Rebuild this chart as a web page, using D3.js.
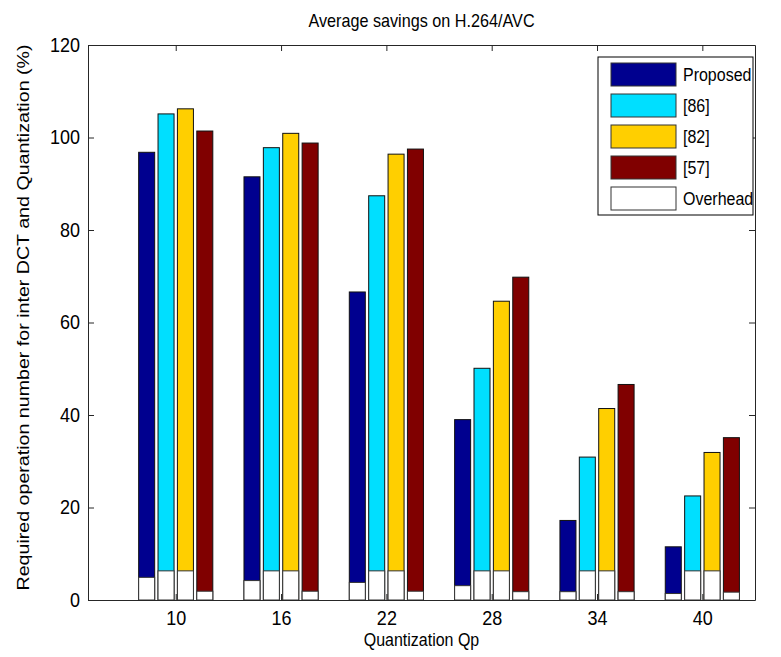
<!DOCTYPE html>
<html>
<head>
<meta charset="utf-8">
<script src="https://cdn.jsdelivr.net/npm/d3@7"></script>
<style>
  body { margin: 0; background: #fff; }
  text { font-family: 'Liberation Sans', Arial, sans-serif; fill: #000; }
</style>
</head>
<body>
<div id="chart"></div>
<script>
// values
const qp = [10, 16, 22, 28, 34, 40]
const seriesNames = ['Proposed', '[86]', '[82]', '[57]']
const proposed = [96.8, 91.5, 66.6, 39.0, 17.2, 11.5]
const ref86 = [105.1, 97.8, 87.4, 50.1, 30.9, 22.5]
const ref82 = [106.2, 100.9, 96.4, 64.6, 41.4, 31.9]
const ref57 = [101.4, 98.8, 97.5, 69.8, 46.6, 35.1]
const overheadProposed = [4.9, 4.2, 3.8, 3.1, 1.8, 1.4]
const overhead86 = [6.3, 6.3, 6.3, 6.3, 6.3, 6.3]
const overhead82 = [6.3, 6.3, 6.3, 6.3, 6.3, 6.3]
const overhead57 = [1.9, 1.9, 1.9, 1.8, 1.8, 1.7]
const yTicks = [0, 20, 40, 60, 80, 100, 120]

const colors = ['#00008f', '#00dfff', '#ffcf00', '#800000']
const values = [proposed, ref86, ref82, ref57]
const overheads = [overheadProposed, overhead86, overhead82, overhead57]

const W = 781
const H = 657
const plot = { left: 88, right: 755, top: 45, bottom: 600 }
// the picture looks stretched a bit in height, so text gets it too
const stretch = 1.12

const svg = d3
  .select('#chart')
  .append('svg')
  .attr('width', W)
  .attr('height', H)

const x = d3
  .scaleLinear()
  .domain([0.167, 6.5])
  .range([plot.left, plot.right])

const y = d3
  .scaleLinear()
  .domain([0, 120])
  .range([plot.bottom, plot.top])

// bar geometry in data units
const pitch = 0.184
const barW = 0.152

const bars = svg.append('g')

function drawBars(vals, s, cls, fill, stroke) {
  const off = (s - 1.5) * pitch
  bars
    .selectAll('.' + cls)
    .data(vals)
    .enter()
    .append('rect')
    .attr('class', cls)
    .attr('x', (d, i) => x(i + 1 + off - barW / 2))
    .attr('width', x(barW) - x(0))
    .attr('y', d => y(d))
    .attr('height', d => y(0) - y(d))
    .attr('fill', fill)
    .attr('stroke', stroke)
    .attr('stroke-width', 1)
}

values.forEach((vals, s) => drawBars(vals, s, 'bar-' + s, colors[s], '#111'))
overheads.forEach((vals, s) => drawBars(vals, s, 'oh-' + s, '#fff', '#333'))

// axes (matlab style box with inward ticks)
const xAxis = d3
  .axisBottom(x)
  .tickValues(d3.range(1, 7))
  .tickFormat((d, i) => qp[i])
  .tickSizeInner(-6)
  .tickSizeOuter(0)
  .tickPadding(10)

svg
  .append('g')
  .attr('class', 'axis x-axis')
  .attr('transform', 'translate(0,' + plot.bottom + ')')
  .call(xAxis)

svg
  .append('g')
  .attr('transform', 'translate(0,' + plot.top + ')')
  .call(d3.axisTop(x).tickValues(d3.range(1, 7)).tickFormat('').tickSizeInner(-6).tickSizeOuter(0))

const yAxis = d3
  .axisLeft(y)
  .tickValues(yTicks)
  .tickSizeInner(-6)
  .tickSizeOuter(0)
  .tickPadding(8)

svg
  .append('g')
  .attr('class', 'axis y-axis')
  .attr('transform', 'translate(' + plot.left + ',0)')
  .call(yAxis)

svg
  .append('g')
  .attr('transform', 'translate(' + plot.right + ',0)')
  .call(d3.axisRight(y).tickValues(yTicks).tickFormat('').tickSizeInner(-6).tickSizeOuter(0))

svg.selectAll('.domain').attr('stroke', '#262626')
svg.selectAll('.tick line').attr('stroke', '#262626')
svg
  .selectAll('.axis .tick text')
  .style('font-size', '18px')
  .attr('fill', '#000')
  .attr('transform', 'scale(1,' + stretch + ')')

// titles
function label(xp, yp, txt, size) {
  return svg
    .append('text')
    .attr('transform', 'translate(' + xp + ',' + yp + ') scale(1,' + stretch + ')')
    .attr('text-anchor', 'middle')
    .style('font-size', size + 'px')
    .text(txt)
}

label((plot.left + plot.right) / 2, 27, 'Average savings on H.264/AVC', 16.2)
label((plot.left + plot.right) / 2, 646, 'Quantization Qp', 16)

svg
  .append('text')
  .attr('transform', 'translate(29,' + ((plot.top + plot.bottom) / 2 - 5) + ') rotate(-90)')
  .attr('text-anchor', 'middle')
  .attr('textLength', 546)
  .attr('lengthAdjust', 'spacingAndGlyphs')
  .style('font-size', '16px')
  .text('Required operation number for inter DCT and Quantization (%)')

// legend
const legendNames = seriesNames.concat(['Overhead'])
const legendColors = colors.concat(['#fff'])

const legend = svg.append('g').attr('transform', 'translate(598,57)')

legend
  .append('rect')
  .attr('width', 155)
  .attr('height', 158)
  .attr('fill', '#fff')
  .attr('stroke', '#000')
  .attr('stroke-width', 1)

const item = legend
  .selectAll('.item')
  .data(legendNames)
  .enter()
  .append('g')
  .attr('class', 'item')
  .attr('transform', (d, i) => 'translate(0,' + (6 + i * 31) + ')')

item
  .append('rect')
  .attr('x', 13)
  .attr('y', 0)
  .attr('width', 65)
  .attr('height', 23)
  .attr('fill', (d, i) => legendColors[i])
  .attr('stroke', '#333')

item
  .append('text')
  .attr('transform', 'translate(85,18) scale(1,' + stretch + ')')
  .style('font-size', '16px')
  .text(d => d)
</script>
</body>
</html>
